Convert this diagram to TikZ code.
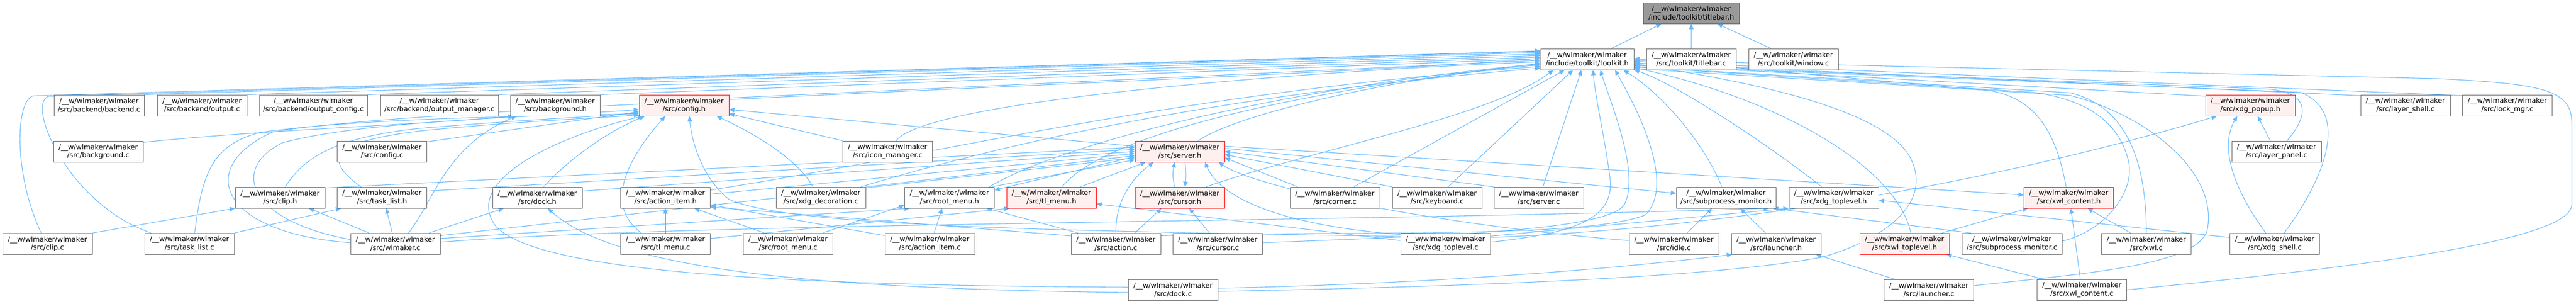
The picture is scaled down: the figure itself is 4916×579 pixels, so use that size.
\documentclass[tikz,border=0pt]{standalone}
\usepackage{fontspec}
\setmainfont{DejaVu Sans}
\usetikzlibrary{arrows.meta,calc}
\definecolor{edgeblue}{HTML}{63B8FF}
\definecolor{boxgray}{HTML}{666666}
\definecolor{rootfill}{HTML}{999999}
\definecolor{redfill}{HTML}{FFF0F0}
\pgfdeclarelayer{bg}
\pgfsetlayers{bg,main}
\newcommand\wlpath{/\_\_w/wlmaker/wlmaker}
\begin{document}
\begin{tikzpicture}[x=0.75pt,y=-0.75pt,
 box/.style={draw=boxgray, fill=white, line width=0.75pt, minimum width=128.25pt, minimum height=30pt, inner sep=0pt, align=center, font=\fontsize{10}{11.5}\selectfont},
 redbox/.style={box, draw=red, fill=redfill},
 rootbox/.style={box, fill=rootfill},
 edge/.style={draw=edgeblue, line width=0.8pt, -{Triangle[length=7.5pt,width=6.5pt]}}]
\useasboundingbox (0,0) rectangle (4916,579);
% row 0
\node[rootbox, minimum width=137.25pt] (tb) at (3227.5,25) {\wlpath\\/include/toolkit/titlebar.h};
% row 1
\node[box, minimum width=133.5pt] (tk) at (3029,113) {\wlpath\\/include/toolkit/toolkit.h};
\node[box] (tbc) at (3227.5,113) {\wlpath\\/src/toolkit/titlebar.c};
\node[box] (win) at (3422.5,113) {\wlpath\\/src/toolkit/window.c};
% row 2
\node[box, minimum width=129pt] (bec) at (189,201) {\wlpath\\/src/backend/backend.c};
\node[box] (outc) at (385.5,201) {\wlpath\\/src/backend/output.c};
\node[box, minimum width=154.5pt] (occ) at (598,201) {\wlpath\\/src/backend/output\_config.c};
\node[box, minimum width=168.75pt] (omc) at (838.5,201) {\wlpath\\/src/backend/output\_manager.c};
\node[box] (bgh) at (1059.5,201) {\wlpath\\/src/background.h};
\node[redbox] (cfgh) at (1305.5,201) {\wlpath\\/src/config.h};
\node[redbox] (popup) at (4294.5,201) {\wlpath\\/src/xdg\_popup.h};
\node[box] (lsc) at (4590.5,201) {\wlpath\\/src/layer\_shell.c};
\node[box] (lock) at (4785,201) {\wlpath\\/src/lock\_mgr.c};
% row 3
\node[box] (bgc) at (187.5,289) {\wlpath\\/src/background.c};
\node[box] (cfgc) at (729,289) {\wlpath\\/src/config.c};
\node[box] (icon) at (1694,289) {\wlpath\\/src/icon\_manager.c};
\node[redbox] (srvh) at (2251.5,289) {\wlpath\\/src/server.h};
\node[box] (lpc) at (4344.5,289) {\wlpath\\/src/layer\_panel.c};
% row 4
\node[box] (cliph) at (534.5,377) {\wlpath\\/src/clip.h};
\node[box] (tlh) at (729,377) {\wlpath\\/src/task\_list.h};
\node[box] (dockh) at (1025.5,377) {\wlpath\\/src/dock.h};
\node[box] (aih) at (1270,377) {\wlpath\\/src/action\_item.h};
\node[box] (deco) at (1566.5,377) {\wlpath\\/src/xdg\_decoration.c};
\node[box] (rmh) at (1812,377) {\wlpath\\/src/root\_menu.h};
\node[redbox] (tmh) at (2006.5,377) {\wlpath\\/src/tl\_menu.h};
\node[redbox] (curh) at (2251.5,377) {\wlpath\\/src/cursor.h};
\node[box] (corner) at (2547.5,377) {\wlpath\\/src/corner.c};
\node[box] (kbd) at (2742.5,377) {\wlpath\\/src/keyboard.c};
\node[box] (srvc) at (2936.5,377) {\wlpath\\/src/server.c};
\node[box, minimum width=142.5pt] (smh) at (3294,377) {\wlpath\\/src/subprocess\_monitor.h};
\node[box] (xtlh) at (3499.5,377) {\wlpath\\/src/xdg\_toplevel.h};
\node[redbox] (xch) at (3948,377) {\wlpath\\/src/xwl\_content.h};
% row 5
\node[box] (clipc) at (90.5,465) {\wlpath\\/src/clip.c};
\node[box] (tlc) at (361.5,465) {\wlpath\\/src/task\_list.c};
\node[box] (wlm) at (754.5,465) {\wlpath\\/src/wlmaker.c};
\node[box] (tmc) at (1270,465) {\wlpath\\/src/tl\_menu.c};
\node[box] (rmc) at (1504,465) {\wlpath\\/src/root\_menu.c};
\node[box] (aic) at (1774.5,465) {\wlpath\\/src/action\_item.c};
\node[box] (actc) at (2129.5,465) {\wlpath\\/src/action.c};
\node[box] (curc) at (2324,465) {\wlpath\\/src/cursor.c};
\node[box] (xtlc) at (2758.5,465) {\wlpath\\/src/xdg\_toplevel.c};
\node[box] (idle) at (3194.5,465) {\wlpath\\/src/idle.c};
\node[box] (lh) at (3389.5,465) {\wlpath\\/src/launcher.h};
\node[redbox] (xwth) at (3634.5,465) {\wlpath\\/src/xwl\_toplevel.h};
\node[box, minimum width=143.25pt] (smc) at (3839.5,465) {\wlpath\\/src/subprocess\_monitor.c};
\node[box] (xwl) at (4096,465) {\wlpath\\/src/xwl.c};
\node[box] (shell) at (4341,465) {\wlpath\\/src/xdg\_shell.c};
% row 6
\node[box] (dockc) at (2238.5,553) {\wlpath\\/src/dock.c};
\node[box] (lc) at (3681,553) {\wlpath\\/src/launcher.c};
\node[box] (xcc) at (3973,553) {\wlpath\\/src/xwl\_content.c};

\begin{pgfonlayer}{bg}
\fill[white] (0,0) rectangle (4916,579);
% titlebar.h
\draw[edge] ($(tk.north)+(46,0)$) -- ($(tb.south)+(-57,0)$);
\draw[edge] (tbc.north) -- (tb.south);
\draw[edge] ($(win.north)+(-43,0)$) -- ($(tb.south)+(50,0)$);
% toolkit.h from the left
\draw[edge] (bec.north east) -- ($(tk.west)+(0,-13)$);
\draw[edge] (outc.north east) -- ($(tk.west)+(0,-10)$);
\draw[edge] (occ.north east) -- ($(tk.west)+(0,-7)$);
\draw[edge] (omc.north east) -- ($(tk.west)+(0,-4)$);
\draw[edge] (bgh.north east) -- ($(tk.west)+(0,-1)$);
\draw[edge] ($(cfgh.east)+(0,-14)$) -- ($(tk.west)+(0,2)$);
\draw[edge] ($(clipc.north)+(-12,0)$) .. controls (25,330) and (30,192) .. (63,183) -- ($(tk.west)+(0,-16)$);
\draw[edge] ($(tlc.north)+(-73,0)$) .. controls (130,390) and (50,200) .. (92,184) -- ($(tk.west)+(0,-15)$);
\draw[edge] ($(icon.north)+(16,0)$) .. controls +(60,-80) and +(-400,15) .. ($(tk.west)+(0,5)$);
\draw[edge] ($(srvh.north)+(35,0)$) .. controls +(80,-55) and +(-250,20) .. ($(tk.west)+(0,11)$);
\draw[edge] ($(curh.north)+(50,0)$) .. controls +(200,-70) and +(-120,90) .. ($(tk.south west)+(25,0)$);
\draw[edge] ($(tmh.north)+(20,0)$) .. controls +(100,-120) and +(-350,40) .. ($(tk.west)+(0,8)$);
\draw[edge] ($(rmh.north east)+(-10,0)$) .. controls +(150,-90) and +(-450,40) .. ($(tk.west)+(0,9)$);
\draw[edge] ($(aih.north east)+(0,6)$) .. controls +(450,-70) and +(-700,50) .. ($(tk.west)+(0,14)$);
\draw[edge] ($(deco.north east)+(-10,0)$) .. controls +(300,-90) and +(-600,50) .. ($(tk.west)+(0,17)$);
\draw[edge] ($(wlm.west)+(0,-2)$) .. controls (420,445) and (370,320) .. (520,252) .. controls (800,200) and (2500,150) .. ($(tk.west)+(0,-2)$);
% toolkit.h from below
\draw[edge] ($(corner.north)+(36,0)$) -- ($(tk.south)+(-43,0)$);
\draw[edge] ($(kbd.north)+(21,0)$) -- ($(tk.south)+(-27,0)$);
\draw[edge] ($(srvc.north)+(8,0)$) -- ($(tk.south)+(-11,0)$);
\draw[edge] ($(xtlc.east)+(0,-3)$) .. controls (3000,445) and (3085,420) .. (3072,336) .. controls (3062,260) and (3045,190) .. ($(tk.south)+(11,0)$);
\draw[edge] ($(curc.east)+(0,-2)$) .. controls (2750,450) and (3070,440) .. (3100,390) .. controls (3130,330) and (3075,200) .. ($(tk.south)+(25,0)$);
\draw[edge] ($(actc.north east)+(0,5)$) .. controls (2600,440) and (3030,455) .. (3140,410) .. controls (3200,350) and (3120,200) .. ($(tk.south)+(53,0)$);
\draw[edge] ($(smh.north)+(-8,0)$) .. controls (3255,280) and (3180,185) .. ($(tk.south)+(69,0)$);
\draw[edge] ($(xtlh.north)+(-23,0)$) .. controls (3380,280) and (3200,160) .. (tk.south east);
\draw[edge] ($(xwth.north)+(12,0)$) .. controls (3620,320) and (3400,190) .. ($(tk.east)+(0,16)$);
% toolkit.h from the right
\draw[edge] ($(popup.north west)+(0,3)$) -- ($(tk.east)+(0,10)$);
\draw[edge] ($(lsc.north west)+(0,2)$) -- ($(tk.east)+(0,7)$);
\draw[edge] ($(lock.north west)+(0,2)$) -- ($(tk.east)+(0,4)$);
\draw[edge] ($(lpc.north)+(20,0)$) .. controls (4410,215) and (4405,178) .. (4330,170) -- ($(tk.east)+(0,11)$);
\draw[edge] ($(shell.north)+(18,0)$) .. controls (4430,350) and (4490,215) .. (4390,176) -- ($(tk.east)+(0,12)$);
\draw[edge] (xwl.north) .. controls (4096,330) and (4070,205) .. (3950,177) -- ($(tk.east)+(0,14)$);
\draw[edge] ($(smc.east)+(0,-5)$) .. controls (4020,440) and (4080,360) .. (4060,300) .. controls (4040,230) and (3980,190) .. (3880,176) -- ($(tk.east)+(0,15)$);
\draw[edge] (xcc.east) .. controls (4500,510) and (4908,460) .. (4908,390) -- (4908,235) .. controls (4908,170) and (4850,160) .. (4650,150) -- ($(tk.east)+(0,2)$);
\draw[edge] ($(lc.east)+(0,-8)$) .. controls (4000,520) and (4190,505) .. (4212,440) .. controls (4235,330) and (4100,220) .. (3950,182) -- ($(tk.east)+(0,18)$);
\draw[edge] ($(xch.north)+(-5,0)$) .. controls (3925,260) and (3890,185) .. (3790,172) -- ($(tk.east)+(0,-1)$);
\draw[edge] ($(dockc.east)+(0,3)$) .. controls (2900,545) and (3300,525) .. (3480,490) .. controls (3600,455) and (3690,385) .. (3645,300) .. controls (3590,200) and (3300,150) .. ($(tk.east)+(0,9)$);
% config.h
\draw[edge] ($(cfgc.north east)+(0,2)$) -- ($(cfgh.west)+(0,12)$);
\draw[edge] ($(tlc.north)+(10,0)$) .. controls (385,340) and (400,275) .. (500,252) .. controls (700,225) and (1000,222) .. ($(cfgh.west)+(0,16)$);
\draw[edge] ($(wlm.west)+(0,-8)$) .. controls (470,420) and (440,320) .. (540,272) .. controls (700,230) and (1000,225) .. ($(cfgh.west)+(0,8)$);
\draw[edge] ($(cliph.north)+(10,0)$) .. controls (580,300) and (640,262) .. (800,245) .. controls (1000,228) and (1150,222) .. ($(cfgh.west)+(0,14)$);
\draw[edge] ($(tlh.north)+(-40,0)$) .. controls (610,300) and (640,270) .. (800,250) .. controls (1000,230) and (1150,225) .. ($(cfgh.west)+(0,18)$);
\draw[edge] ($(dockh.north)+(12,0)$) .. controls (1070,320) and (1140,260) .. ($(cfgh.south)+(-75,0)$);
\draw[edge] ($(tmc.north)+(-46,0)$) .. controls (1150,390) and (1200,300) .. ($(cfgh.south)+(-36,0)$);
\draw[edge] ($(deco.north)+(-15,0)$) .. controls (1520,300) and (1430,250) .. ($(cfgh.south)+(62,0)$);
\draw[edge] ($(srvh.west)+(0,-10)$) -- ($(cfgh.east)+(0,8)$);
\draw[edge] (icon.north west) -- ($(cfgh.east)+(0,16)$);
\draw[edge] ($(dockc.west)+(0,-5)$) .. controls (1500,545) and (1020,520) .. (945,430) .. controls (880,340) and (1080,255) .. ($(cfgh.south west)+(8,0)$);
\draw[edge] ($(xtlc.west)+(0,-14)$) .. controls (2000,440) and (1500,432) .. (1391,380) .. controls (1340,340) and (1320,270) .. ($(cfgh.south)+(10,0)$);
% background.h
\draw[edge] ($(bgc.north east)+(0,3)$) .. controls (500,248) and (800,238) .. ($(bgh.south west)+(6,0)$);
\draw[edge] ($(wlm.north)+(25,0)$) .. controls (830,380) and (850,280) .. ($(bgh.south west)+(12,0)$);
% clip.h, task_list.h
\draw[edge] (clipc.north east) -- (cliph.south west);
\draw[edge] ($(wlm.north)+(-50,0)$) -- ($(cliph.south)+(55,0)$);
\draw[edge] (tlc.north east) -- ($(tlh.south west)+(8,0)$);
\draw[edge] ($(wlm.north)+(-6,0)$) -- ($(tlh.south)+(8,0)$);
% dock.h
\draw[edge] ($(wlm.north east)+(-22,0)$) -- ($(dockh.south west)+(22,0)$);
\draw[edge] ($(dockc.west)+(0,5)$) .. controls (1600,552) and (1180,520) .. ($(dockh.south)+(20,0)$);
% action_item.h
\draw[edge] (tmc.north) -- (aih.south);
\draw[edge] ($(rmc.north)+(-45,0)$) -- ($(aih.south)+(55,0)$);
\draw[edge] ($(aic.north west)+(0,5)$) -- ($(aih.east)+(0,14)$);
\draw[edge] ($(actc.west)+(0,-15)$) -- ($(aih.east)+(0,18)$);
% root_menu.h
\draw[edge] ($(aic.north)+(8,0)$) -- ($(rmh.south)+(-14,0)$);
\draw[edge] ($(actc.north)+(-72,0)$) -- ($(rmh.south east)+(-15,0)$);
\draw[edge] ($(srvh.west)+(0,10)$) -- ($(rmh.north east)+(0,6)$);
\draw[edge] ($(rmh.north east)+(-6,0)$) -- ($(srvh.west)+(0,16)$);
\draw[edge] ($(rmc.north east)+(-20,0)$) -- ($(rmh.south west)+(0,-6)$);
\draw[edge] ($(wlm.east)+(0,-10)$) -- ($(rmh.south west)+(10,0)$);
% tl_menu.h
\draw[edge] ($(tmc.east)+(0,-10)$) -- ($(tmh.south west)+(6,0)$);
\draw[edge] ($(xtlc.west)+(0,-6)$) -- ($(tmh.east)+(0,12)$);
% server.h
\draw[edge] ($(curh.north)+(-10,0)$) .. controls +(-4,-22) and +(-4,22) .. ($(srvh.south)+(-10,0)$);
\draw[edge] ($(srvh.south)+(10,0)$) .. controls +(2,22) and +(2,-22) .. ($(curh.north)+(10,0)$);
\draw[edge] ($(tmh.north)+(55,0)$) -- ($(srvh.south)+(-65,0)$);
\draw[edge] (actc.north) .. controls (2128,385) and (2160,340) .. ($(srvh.south)+(-50,0)$);
\draw[edge] ($(cliph.north east)+(0,2)$) -- ($(srvh.west)+(0,-8)$);
\draw[edge] ($(tlh.north east)+(0,8)$) -- ($(srvh.west)+(0,-4)$);
\draw[edge] ($(dockh.north east)+(0,8)$) -- (srvh.west);
\draw[edge] ($(aih.north east)+(0,14)$) -- ($(srvh.west)+(0,4)$);
\draw[edge] (deco.north east) -- ($(srvh.west)+(0,8)$);
\draw[edge] ($(wlm.north east)+(0,5)$) -- ($(srvh.west)+(0,12)$);
\draw[edge] ($(corner.north west)+(15,0)$) -- ($(srvh.east)+(0,12)$);
\draw[edge] (kbd.north west) -- ($(srvh.east)+(0,6)$);
\draw[edge] (srvc.north west) -- (srvh.east);
\draw[edge] ($(xtlc.north west)+(0,3)$) .. controls (2450,430) and (2330,380) .. ($(srvh.south)+(48,0)$);
\draw[edge] ($(idle.west)+(0,-6)$) .. controls (2750,430) and (2400,360) .. ($(srvh.south east)+(-12,0)$);
\draw[edge] ($(srvh.east)+(0,-6)$) -- ($(smh.west)+(0,-8)$);
\draw[edge] ($(srvh.east)+(0,-10)$) -- ($(xch.west)+(0,-5)$);
% cursor.h
\draw[edge] ($(actc.north east)+(-50,0)$) -- ($(curh.south)+(-35,0)$);
\draw[edge] ($(curc.north)+(-16,0)$) -- ($(curh.south)+(18,0)$);
% subprocess_monitor.h
\draw[edge] ($(idle.north)+(25,0)$) -- ($(smh.south)+(-27,0)$);
\draw[edge] ($(lh.north)+(-20,0)$) -- ($(smh.south)+(27,0)$);
\draw[edge] ($(smc.north west)+(18,0)$) -- ($(smh.south east)+(-6,0)$);
\draw[edge] ($(wlm.east)+(0,-3)$) .. controls (1300,425) and (2500,425) .. ($(smh.south east)+(-14,0)$);
% xdg_toplevel.h
\draw[edge] ($(shell.west)+(0,-12)$) -- ($(xtlh.east)+(0,5)$);
\draw[edge] ($(xtlc.north east)+(0,6)$) -- (xtlh.south west);
% xwl_content.h
\draw[edge] ($(xwth.north east)+(-15,0)$) -- ($(xch.south west)+(8,0)$);
\draw[edge] ($(xcc.north)+(-3,0)$) -- ($(xch.south)+(4,0)$);
\draw[edge] ($(xwl.north)+(-30,0)$) -- ($(xch.south)+(36,0)$);
% xwl_toplevel.h
\draw[edge] ($(xcc.north west)+(12,0)$) -- ($(xwth.south east)+(-6,0)$);
% launcher.h
\draw[edge] ($(lc.north west)+(20,0)$) -- ($(lh.south east)+(-10,0)$);
\draw[edge] ($(dockc.east)+(0,-3)$) .. controls (2800,540) and (3150,505) .. ($(lh.south west)+(2,0)$);
% xdg_popup.h
\draw[edge] ($(lpc.north)+(-12,0)$) -- ($(popup.south)+(14,0)$);
\draw[edge] ($(shell.north)+(-17,0)$) .. controls (4262,360) and (4235,280) .. ($(popup.south)+(-25,0)$);
\draw[edge] ($(xtlc.east)+(0,-12)$) .. controls (3300,435) and (3800,350) .. ($(popup.south west)+(22,0)$);
\end{pgfonlayer}
\end{tikzpicture}
\end{document}
